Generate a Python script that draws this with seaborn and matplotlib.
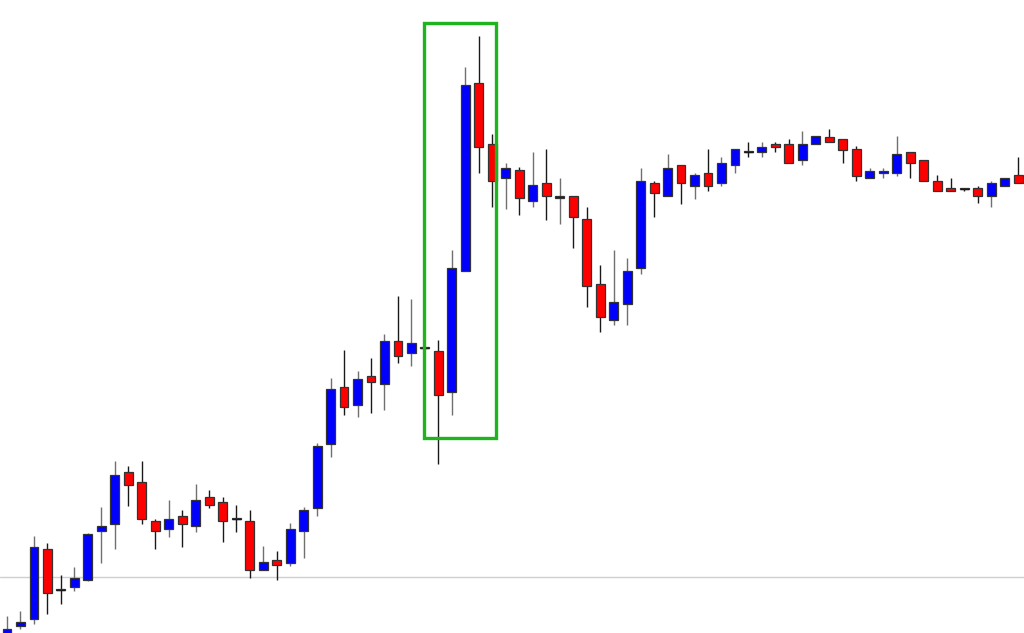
import matplotlib
matplotlib.use("Agg")
import matplotlib.pyplot as plt
import matplotlib.patches as mpatches
import numpy as np
import pandas as pd
import seaborn as sns

# OHLC values (price in points)
opens = [-3, 7, 14, 84, 43, 46, 53, 102, 109, 161, 151, 112, 104, 117, 107, 136, 131, 114, 112, 63,
         73, 70, 102, 125, 189, 246, 228, 257, 249, 292, 280, 285, 282, 241, 362, 550, 489, 455, 463, 432,
         450, 435, 437, 414, 349, 313, 329, 365, 450, 437, 468, 447, 460, 450, 468, 481, 481, 489, 489, 473,
         489, 496, 494, 484, 455, 460, 460, 481, 473, 452, 445, 444, 445, 437, 447, 458]
highs = [17, 22, 97, 90, 58, 66, 100, 126, 172, 167, 172, 114, 133, 123, 149, 143, 136, 128, 123, 87,
         82, 110, 126, 190, 255, 283, 262, 275, 299, 337, 334, 286, 293, 383, 566, 597, 499, 470, 466, 481,
         484, 455, 437, 426, 368, 383, 375, 465, 452, 479, 468, 460, 484, 476, 484, 491, 491, 491, 494, 502,
         497, 504, 494, 487, 465, 465, 497, 481, 473, 458, 455, 445, 447, 452, 455, 476]
lows = [-5, 4, 9, 19, 29, 42, 52, 70, 84, 127, 109, 84, 96, 86, 101, 125, 91, 101, 55, 63,
        53, 67, 75, 117, 176, 218, 216, 220, 223, 270, 267, 284, 169, 218, 362, 460, 426, 424, 418, 426,
        413, 409, 385, 326, 301, 308, 308, 359, 416, 437, 429, 434, 442, 447, 460, 476, 476, 481, 470, 468,
        489, 491, 470, 452, 455, 455, 457, 455, 452, 442, 442, 442, 430, 426, 447, 450]
closes = [4, 11, 86, 40, 43, 55, 99, 107, 158, 148, 114, 102, 114, 109, 133, 128, 112, 114, 63, 71,
          68, 104, 123, 187, 244, 226, 254, 251, 292, 277, 290, 285, 238, 365, 548, 486, 452, 465, 435, 448,
          437, 437, 416, 347, 316, 331, 362, 452, 440, 465, 450, 458, 447, 470, 484, 481, 486, 486, 470, 489,
          497, 491, 483, 457, 462, 462, 479, 470, 452, 442, 442, 444, 437, 450, 455, 450]

level_line = 56          # horizontal support level
box_x = (30.93, 36.28)   # highlighted candles (index range)
box_y = (195, 610)       # highlighted price range

df = pd.DataFrame({"open": opens, "high": highs, "low": lows, "close": closes})
df["idx"] = np.arange(len(df))
df["bull"] = df["close"] > df["open"]
df["bottom"] = df[["open", "close"]].min(axis=1)
df["height"] = (df["close"] - df["open"]).abs().clip(lower=0.6)

sns.set_style("white")
fig = plt.figure(figsize=(10.24, 6.33), dpi=100)
ax = fig.add_axes([0, 0, 1, 1])

ax.axhline(level_line, color="#cfcfcf", lw=1, zorder=0)

# wicks
for bull, wick_col in [(True, "#707070"), (False, "#1a1a1a")]:
    d = df[df["bull"] == bull]
    ax.vlines(d["idx"], d["low"], d["high"], color=wick_col, lw=1, zorder=1)

# bodies
colors = np.where(df["bull"], "#0000ff", "#ff0000")
ax.bar(df["idx"], df["height"], bottom=df["bottom"], width=0.66, color=colors,
       edgecolor="#333333", linewidth=0.9, zorder=2)

# doji candles: draw as horizontal ticks
doji = df[df["open"] == df["close"]]
ax.hlines(doji["open"], doji["idx"] - 0.33, doji["idx"] + 0.33, color="#1a1a1a", lw=1, zorder=3)

ax.add_patch(mpatches.Rectangle((box_x[0], box_y[0]), box_x[1] - box_x[0], box_y[1] - box_y[0],
                                fill=False, edgecolor="#1db41d", lw=2.4, zorder=4))

ax.set_xlim(-0.52, 75.44)
ax.set_ylim(0, 633)
ax.axis("off")

fig.savefig("out.png", dpi=100, facecolor="white")
